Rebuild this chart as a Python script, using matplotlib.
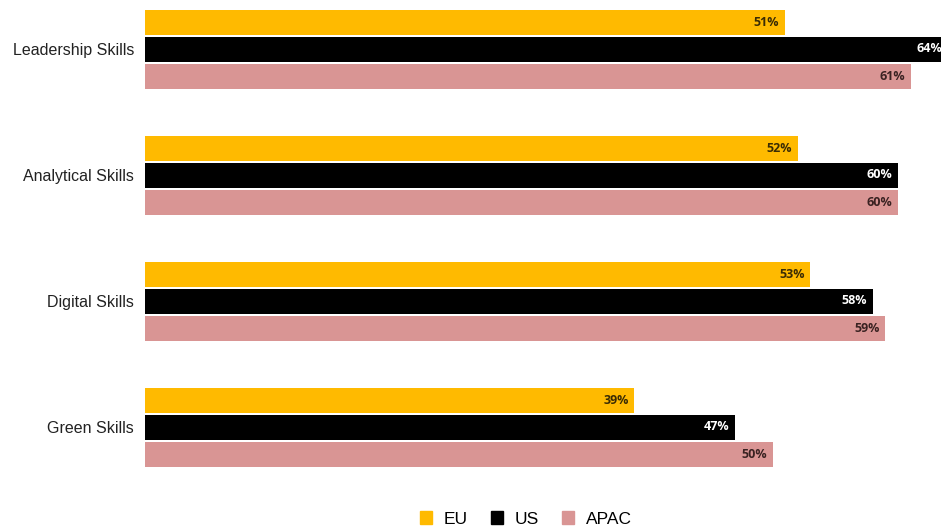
import matplotlib
matplotlib.use("Agg")
import matplotlib.pyplot as plt
import numpy as np

categories = ["Leadership Skills", "Analytical Skills", "Digital Skills", "Green Skills"]
series_names = ["EU", "US", "APAC"]
eu = [51, 52, 53, 39]
us = [64, 60, 58, 47]
apac = [61, 60, 59, 50]

colors = ["#FFBA00", "#000000", "#D99594"]
label_colors = ["#3A2C05", "#FFFFFF", "#3A2222"]

fig = plt.figure(figsize=(9.41, 5.30), dpi=100)
ax = fig.add_axes([145/941, 1 - 480/530, 1 - 145/941, 480/530])

y = np.arange(len(categories))
h = 25/126
off = 27/126
data = [eu, us, apac]
for k, (vals, c, lc, name) in enumerate(zip(data, colors, label_colors, series_names)):
    pos = y + (k - 1) * off
    ax.barh(pos, vals, height=h, color=c, label=name)
    for yy, v in zip(pos, vals):
        ax.text(v - 0.45, yy, f"{v}%", ha="right", va="center", color=lc,
                fontsize=9, fontweight="bold", family="Open Sans", clip_on=False)

ax.set_xlim(0, 796/12.55)
ax.set_ylim(3 + 53/126, -49/126)
ax.set_yticks(y)
ax.set_yticklabels(categories, fontsize=11.5, family="Liberation Sans", color="#222222")
ax.tick_params(axis="y", length=0, pad=8)
ax.set_xticks([])
for s in ax.spines.values():
    s.set_visible(False)

handles = [plt.Rectangle((0, 0), 1, 1, color=c) for c in colors]
fig.legend(handles, series_names, loc="center", bbox_to_anchor=(526/941, 1 - 519/530),
           ncol=3, frameon=False, handlelength=0.7, handleheight=0.7,
           handletextpad=0.7, columnspacing=1.3,
           prop={"family": "Liberation Sans", "size": 12.5})

fig.savefig("out.png", dpi=100)
